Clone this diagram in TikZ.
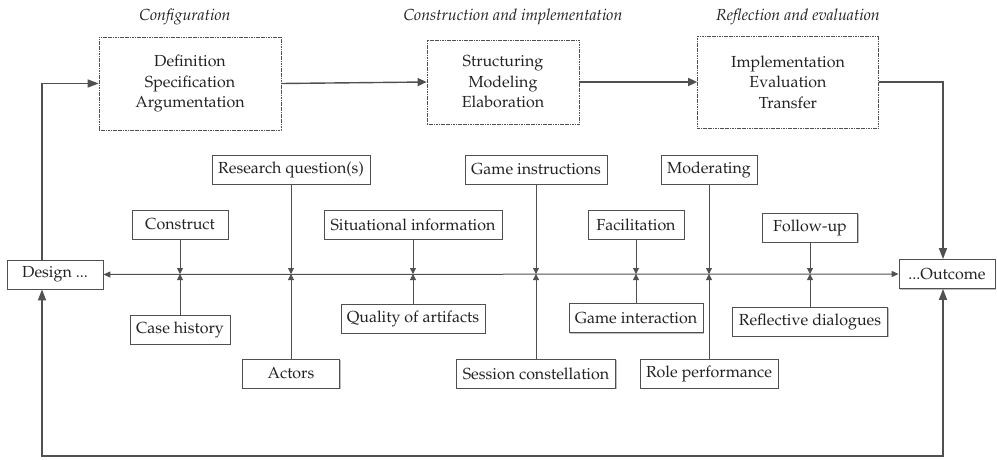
\documentclass[tikz,border=0pt]{standalone}
\usepackage[T1]{fontenc}
\usepackage{mathpazo}
\usetikzlibrary{arrows.meta,shadows}
\definecolor{ink}{HTML}{222222}
\definecolor{wire}{HTML}{505050}
\begin{document}
\begin{tikzpicture}[x=1pt,y=-1pt,
  every node/.style={font=\fontsize{16}{20.5}\selectfont, text=ink},
  phase/.style={draw=wire, line width=0.7pt, dash pattern=on 1.2pt off 0.5pt, align=center, inner sep=0pt},
  title/.style={font=\fontsize{16}{20}\selectfont\itshape, inner sep=0pt},
  endbox/.style={draw=wire, line width=0.8pt, fill=white, minimum height=29pt, inner sep=0pt,
    drop shadow={shadow xshift=1.3pt, shadow yshift=-1.3pt, fill=black!25, opacity=1}},
  factor/.style={draw=wire, line width=0.8pt, fill=white, minimum height=29pt, inner sep=0pt,
    drop shadow={shadow xshift=1.3pt, shadow yshift=-1.3pt, fill=black!25, opacity=1}},
  flow/.style={draw=wire, line width=1.4pt, -{Triangle[length=11pt,width=8pt]}},
  spine/.style={draw=wire, line width=1pt, {Triangle[length=7pt,width=6pt]}-{Triangle[length=7pt,width=6pt]}},
  feed/.style={draw=wire, line width=0.8pt, -{Triangle[length=6pt,width=6pt]}},
]
\useasboundingbox (0,0) rectangle (997,460);

% phase titles
\node[title] (t1) at (185,17) {Configuration};
\node[title] (t2) at (513,17) {Construction and implementation};
\node[title] (t3) at (798,17) {Reflection and evaluation};

% phase boxes
\node[phase, minimum width=182pt, minimum height=93pt] (p1) at (190,83.5)
  {Definition\\Specification\\Argumentation};
\node[phase, minimum width=152pt, minimum height=84pt] (p2) at (503,82)
  {Structuring\\Modeling\\Elaboration};
\node[phase, minimum width=181pt, minimum height=92pt] (p3) at (788,82)
  {Implementation\\Evaluation\\Transfer};

% start and end
\node[endbox, minimum width=96pt] (design) at (55,274.5) {Design ...};
\node[endbox, minimum width=96pt] (outcome) at (947,274) {...Outcome};

% factors above the spine
\node[factor, minimum width=96pt]  (construct) at (180,224.5) {Construct};
\node[factor, minimum width=158pt] (research)  at (291,169.5) {Research question(s)};
\node[factor, minimum width=178pt] (situ)      at (413,224.5) {Situational information};
\node[factor, minimum width=142pt] (instr)     at (536,169.5) {Game instructions};
\node[factor, minimum width=96pt]  (facil)     at (636,224.5) {Facilitation};
\node[factor, minimum width=96pt]  (moder)     at (709,169.5) {Moderating};
\node[factor, minimum width=95pt]  (follow)    at (810,227.5) {Follow-up};

% factors below the spine
\node[factor, minimum width=100pt] (casehist) at (180,329.5) {Case history};
\node[factor, minimum width=97pt]  (actors)   at (291,373.5) {Actors};
\node[factor, minimum width=144pt] (quality)  at (413,318.5) {Quality of artifacts};
\node[factor, minimum width=159pt] (session)  at (536,373.5) {Session constellation};
\node[factor, minimum width=134pt] (interact) at (636,318) {Game interaction};
\node[factor, minimum width=138pt] (role)     at (709,373.5) {Role performance};
\node[factor, minimum width=155pt] (reflect)  at (810,321.5) {Reflective dialogues};

% the spine
\coordinate (axis) at (500,274);
\draw[spine] (design.east) -- (outcome.west);

% feeds onto the spine
\foreach \n in {construct,research,situ,instr,facil,moder,follow}
  \draw[feed] (\n.south) -- (\n.south |- axis);
\foreach \n in {casehist,actors,quality,session,interact,role,reflect}
  \draw[feed] (\n.north) -- (\n.north |- axis);

% process flow
\draw[flow, -{Triangle[length=9pt,width=8pt]}] (p1.east) -- (p2.west);
\draw[flow, -{Triangle[length=9pt,width=8pt]}] (p2.east) -- (p3.west);
\draw[flow] (p3.east) -| ([xshift=-4pt]outcome.north);
\draw[flow] ([xshift=-13pt]design.north) |- (p1.west);

% return loop along the bottom
\coordinate (bl) at (42,456);
\coordinate (br) at (943,456);
\draw[flow, {Triangle[length=11pt,width=8pt]}-{Triangle[length=11pt,width=8pt]}]
  ([xshift=-13pt]design.south) -- (bl) -- (br) -- ([xshift=-4pt]outcome.south);
\end{tikzpicture}
\end{document}
